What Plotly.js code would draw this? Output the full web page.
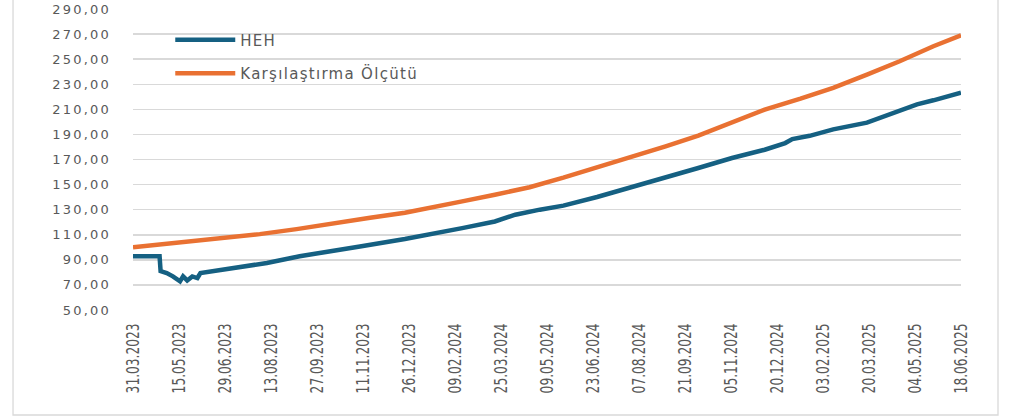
<!DOCTYPE html>
<html>
<head>
<meta charset="utf-8">
<script src="https://cdn.plot.ly/plotly-3.0.1.min.js"></script>
<style>
  html, body { margin: 0; padding: 0; background: #ffffff; }
  #chart { width: 1014px; height: 419px; }
  .ytick text { letter-spacing: 2.2px; }
  .legendtext { letter-spacing: 1.3px; }
</style>
</head>
<body>
<div id="chart"></div>
<script>
// ---- data ----
const hehDates = [
  '2023-03-31','2023-04-26','2023-04-27','2023-05-03','2023-05-09','2023-05-14','2023-05-16',
  '2023-05-19','2023-05-23','2023-05-28','2023-06-02','2023-06-05','2023-07-07','2023-08-09',
  '2023-09-10','2023-10-13','2023-11-08','2023-12-22','2024-01-14','2024-02-16','2024-03-19',
  '2024-04-08','2024-05-02','2024-05-25','2024-06-27','2024-07-29','2024-09-02','2024-10-04',
  '2024-11-06','2024-12-08','2024-12-28','2025-01-04','2025-01-21','2025-02-13','2025-03-18',
  '2025-04-19','2025-05-06','2025-05-22','2025-06-18'
];
const hehValues = [
  92.8, 92.8, 81.0, 79.5, 76.8, 74.2, 72.8,
  76.8, 73.6, 76.8, 75.5, 79.5, 83.5, 87.5,
  92.8, 96.8, 100.7, 106.6, 110.0, 115.3, 120.6,
  126.0, 130.0, 133.2, 140.1, 147.3, 155.2, 163.2,
  171.2, 177.8, 183.1, 186.3, 188.9, 194.0, 199.4,
  208.7, 214.0, 217.2, 223.3
];
const benchDates = [
  '2023-03-31','2023-05-16','2023-06-29','2023-08-02','2023-09-07','2023-10-13','2023-11-18',
  '2023-12-22','2024-01-14','2024-02-16','2024-03-19','2024-04-22','2024-05-25','2024-06-27',
  '2024-07-29','2024-09-02','2024-10-04','2024-11-06','2024-12-08','2025-01-12','2025-02-13',
  '2025-03-18','2025-04-19','2025-05-22','2025-06-18'
];
const benchValues = [
  100.0, 103.8, 107.6, 110.5, 114.5, 119.3, 123.5,
  127.5, 131.0, 136.6, 141.9, 147.9, 155.5, 163.5,
  172.0, 180.5, 189.0, 199.1, 209.8, 218.5, 227.1,
  237.7, 248.3, 260.3, 269.0
];
const seriesNames = ['HEH', 'Karşılaştırma Ölçütü'];
const xTickLabels = [
  '31.03.2023','15.05.2023','29.06.2023','13.08.2023','27.09.2023','11.11.2023','26.12.2023',
  '09.02.2024','25.03.2024','09.05.2024','23.06.2024','07.08.2024','21.09.2024','05.11.2024',
  '20.12.2024','03.02.2025','20.03.2025','04.05.2025','18.06.2025'
];
const yTickValues = [50, 70, 90, 110, 130, 150, 170, 190, 210, 230, 250, 270, 290];

// convert dd.mm.yyyy labels to ISO dates for tick positions
const toIso = s => { const p = s.split('.'); return p[2] + '-' + p[1] + '-' + p[0]; };
const xTickVals = xTickLabels.map(toIso);

const gray = '#595959';
const grid = '#d9d9d9';

const traces = [
  {
    x: hehDates, y: hehValues, name: seriesNames[0], type: 'scatter', mode: 'lines',
    line: { color: '#156082', width: 4.5 }, legendgroup: 'a'
  },
  {
    x: benchDates, y: benchValues, name: seriesNames[1], type: 'scatter', mode: 'lines',
    line: { color: '#E97132', width: 4.5 }, legendgroup: 'b'
  }
];

const layout = {
  width: 1014, height: 419,
  margin: { l: 133, r: 53, t: 9, b: 109, pad: 0 },
  paper_bgcolor: '#ffffff', plot_bgcolor: '#ffffff',
  separators: ',.',
  font: { family: 'DejaVu Sans, sans-serif', color: gray },
  showlegend: true,
  legend: {
    x: 0.045, y: 0.952, xanchor: 'left', yanchor: 'top',
    bgcolor: 'rgba(0,0,0,0)', borderwidth: 0,
    traceorder: 'grouped', tracegroupgap: 11,
    font: { family: 'DejaVu Sans, sans-serif', size: 15, color: gray },
    itemwidth: 60
  },
  xaxis: {
    type: 'date',
    range: [xTickVals[0], xTickVals[xTickVals.length - 1]],
    tickmode: 'array', tickvals: xTickVals, ticktext: xTickLabels,
    tickangle: -90, showgrid: false, zeroline: false, showline: false, ticks: '',
    ticklabelstandoff: 9,
    tickfont: { family: 'DejaVu Sans, sans-serif', size: 17, color: gray }
  },
  yaxis: {
    range: [50, 290],
    tickmode: 'array', tickvals: yTickValues,
    tickformat: '.2f',
    showgrid: true, gridcolor: grid, gridwidth: 1.5,
    zeroline: false, showline: false, ticks: '',
    ticklabelstandoff: 21,
    tickfont: { family: 'DejaVu Sans, sans-serif', size: 13, color: gray }
  },
  shapes: [
    {
      type: 'rect', xref: 'paper', yref: 'paper', layer: 'below',
      x0: -0.1449, x1: 1.0447, y0: -0.3488, y1: 1.08,
      line: { color: grid, width: 1.3 }, fillcolor: 'rgba(0,0,0,0)'
    }
  ]
};

Plotly.newPlot('chart', traces, layout, { displayModeBar: false, staticPlot: true }).then(() => {
  // narrow the date labels to mimic the condensed font of the original
  document.querySelectorAll('.xtick text').forEach(t => {
    t.setAttribute('textLength', '70');
    t.setAttribute('lengthAdjust', 'spacingAndGlyphs');
  });
});
</script>
</body>
</html>
